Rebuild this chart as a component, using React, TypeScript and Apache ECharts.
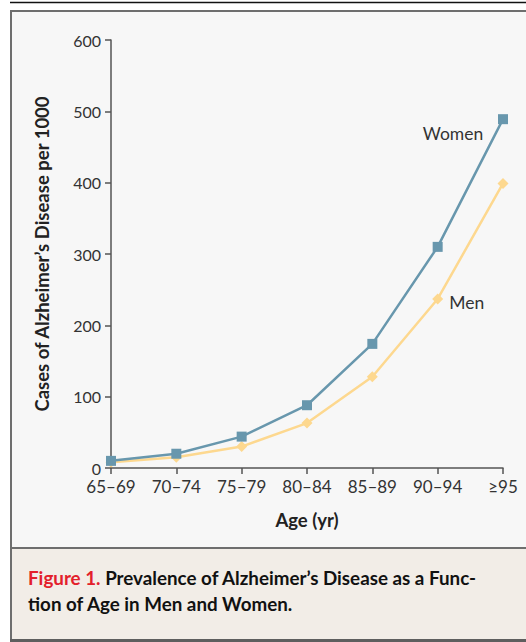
import React, { useEffect, useRef } from "react";
import * as echarts from "echarts";

const categories = ["65–69", "70–74", "75–79", "80–84", "85–89", "90–94", "≥95"];
const women = [10, 20, 44, 88, 174, 310, 489];
const men = [8, 15, 30, 63, 128, 237, 399];
const yTicks = { min: 0, max: 600, interval: 100 };
const yTitle = "Cases of Alzheimer’s Disease per 1000";
const xTitle = "Age (yr)";
const captionLead = "Figure 1.";
const captionLine1 = " Prevalence of Alzheimer’s Disease as a Func-";
const captionLine2 = "tion of Age in Men and Women.";

const FONT = "Lato, 'Open Sans', 'Noto Sans', sans-serif";

export default function App() {
  const ref = useRef<HTMLDivElement>(null);
  useEffect(() => {
    if (!ref.current) return;
    const chart = echarts.init(ref.current, null, { renderer: "svg" });
    const W = 526;
    const H = 642;
    chart.setOption({
      animation: false,
      backgroundColor: "#ffffff",
      textStyle: { fontFamily: FONT },
      graphic: [
        { type: "rect", z: -10, shape: { x: 10, y: 10, width: W, height: 538 }, style: { fill: "#f7f7f7" } },
        { type: "rect", z: -10, shape: { x: 10, y: 548, width: W, height: 91 }, style: { fill: "#f2ede7" } },
        { type: "line", z: -5, shape: { x1: 10, y1: 2.5, x2: W, y2: 2.5 }, style: { stroke: "#111", lineWidth: 1.6 } },
        { type: "line", z: -5, shape: { x1: 10, y1: 11, x2: W, y2: 11 }, style: { stroke: "#6e6e6e", lineWidth: 2 } },
        { type: "line", z: -5, shape: { x1: 11, y1: 10, x2: 11, y2: H }, style: { stroke: "#6e6e6e", lineWidth: 2 } },
        { type: "line", z: -5, shape: { x1: 10, y1: 548, x2: W, y2: 548 }, style: { stroke: "#6e6e6e", lineWidth: 2 } },
        { type: "rect", z: -5, shape: { x: 10, y: 639, width: W, height: 3 }, style: { fill: "#5e5e5e" } },
        {
          type: "text",
          left: 28,
          top: 568,
          style: {
            text: `{r|${captionLead}}{b|${captionLine1}}\n{b|${captionLine2}}`,
            rich: {
              r: { fill: "#e3202b", fontWeight: "bold", fontSize: 18.8, fontFamily: FONT, lineHeight: 26 },
              b: { fill: "#111", fontWeight: "bold", fontSize: 18.8, fontFamily: FONT, lineHeight: 26 },
            },
          },
        },
      ],
      grid: { left: 111, right: 23, top: 40, bottom: 174, containLabel: false },
      xAxis: {
        type: "category",
        data: categories,
        boundaryGap: false,
        name: xTitle,
        nameLocation: "middle",
        nameGap: 42,
        nameTextStyle: { fontWeight: "bold", fontSize: 18.5, color: "#222", fontFamily: FONT },
        axisLine: { lineStyle: { color: "#555", width: 1.5 } },
        axisTick: { show: true, length: 6, lineStyle: { color: "#555", width: 1.5 } },
        axisLabel: { fontSize: 17, lineHeight: 17, color: "#333", margin: 10, fontFamily: FONT },
        splitLine: { show: false },
      },
      yAxis: {
        type: "value",
        min: yTicks.min,
        max: yTicks.max,
        interval: yTicks.interval,
        name: yTitle,
        nameLocation: "middle",
        nameGap: 60,
        nameTextStyle: { fontWeight: "bold", fontSize: 18.5, color: "#222", fontFamily: FONT },
        axisLine: { show: true, lineStyle: { color: "#555", width: 1.5 } },
        axisTick: { show: true, length: 6, lineStyle: { color: "#555", width: 1.5 } },
        axisLabel: { fontSize: 16, lineHeight: 15, color: "#333", margin: 10, fontFamily: FONT },
        splitLine: { show: false },
      },
      series: [
        {
          name: "Men",
          type: "line",
          data: men.map((v, i) =>
            i === 5
              ? {
                  value: v,
                  label: {
                    show: true,
                    formatter: "Men",
                    position: "inside",
                    offset: [29, 4],
                    color: "#333",
                    fontSize: 17.5,
                    fontFamily: FONT,
                  },
                }
              : v
          ),
          symbol: "diamond",
          symbolSize: 11,
          lineStyle: { color: "#fdd88f", width: 2.5 },
          itemStyle: { color: "#fdd88f" },
          z: 2,
        },
        {
          name: "Women",
          type: "line",
          data: women.map((v, i) =>
            i === 6
              ? {
                  value: v,
                  label: {
                    show: true,
                    formatter: "Women",
                    position: "inside",
                    offset: [-50, 14],
                    color: "#333",
                    fontSize: 17.5,
                    fontFamily: FONT,
                  },
                }
              : v
          ),
          symbol: "rect",
          symbolSize: 10,
          lineStyle: { color: "#6897ad", width: 2.5 },
          itemStyle: { color: "#6897ad" },
          z: 3,
        },
      ],
    });
    return () => chart.dispose();
  }, []);
  return (
    <div
      ref={ref}
      style={{ position: "fixed", left: 0, top: 0, width: 526, height: 642 }}
    />
  );
}
